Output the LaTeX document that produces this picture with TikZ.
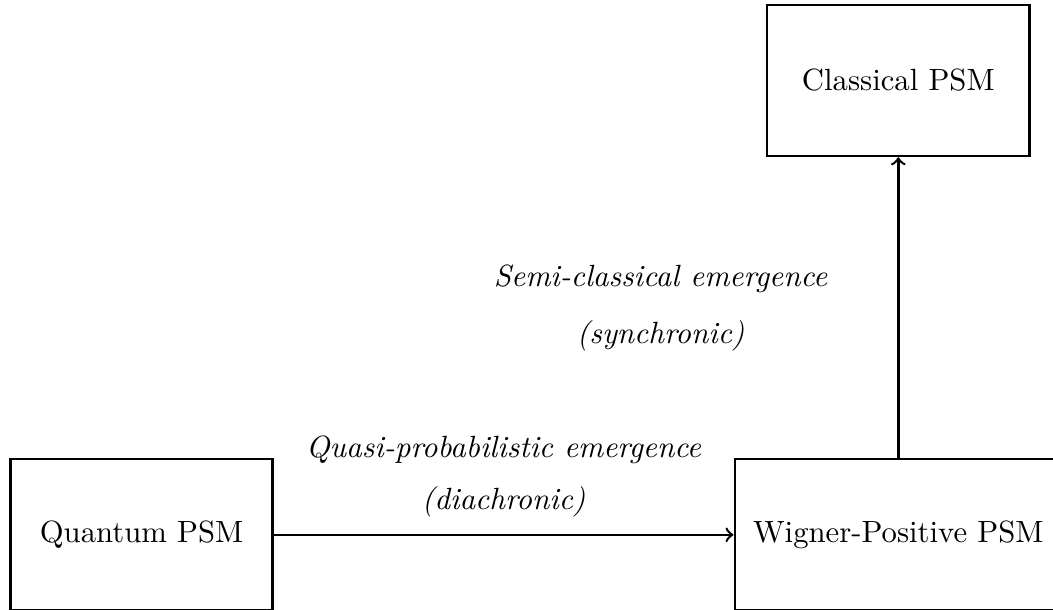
\documentclass[tikz,border=0pt]{standalone}
\usetikzlibrary{positioning}

\begin{document}
\begin{tikzpicture}[thick,
		psmBox/.style={draw, rectangle, inner sep=6pt, minimum width=3cm, minimum height=1.73cm}]
		\useasboundingbox (-1.62,-0.86) rectangle (10.43,6.12);
		\node[psmBox] (quantum) at (0,0) {Quantum PSM};
		\node[psmBox] (wigner) at (8.66,0) {Wigner-Positive PSM};
		\node[psmBox] (classical) at (8.66,5.2) {Classical PSM};
		\draw[->] (quantum) -- node[midway, above=2pt, align=center] {\textit{Quasi-probabilistic emergence}\\[5pt] \textit{(diachronic)}} (wigner);
		\draw[->] (wigner) -- node[midway, left=0.68cm, align=center] {\textit{Semi-classical emergence}\\[6.5pt] \textit{(synchronic)}} (classical);
	\end{tikzpicture}
\end{document}
